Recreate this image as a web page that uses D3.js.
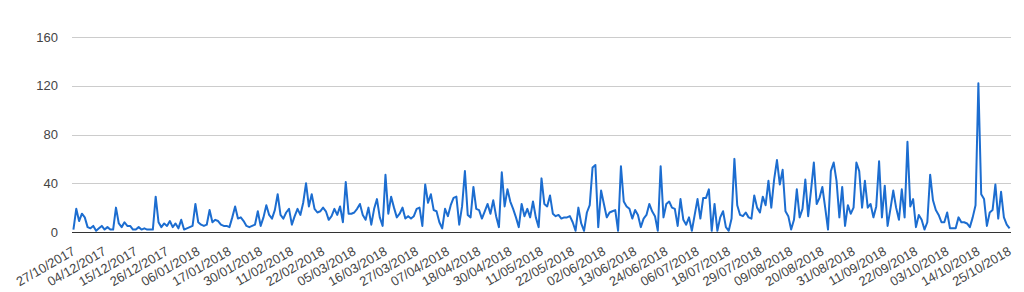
<!DOCTYPE HTML>
<html>
<head>
<meta charset="utf-8">
<script src="https://d3js.org/d3.v7.min.js"></script>
<style>
  body { margin: 0; background: white; }
  text { font-family: Arial, "Liberation Sans", sans-serif; }
</style>
</head>
<body>
<svg id="svgMain" width="1024" height="292"></svg>
<script>

// daily values, one per category (label shown on every 11th day)
const values = [
  2, 19, 9, 15, 12, 4, 3, 5, 1, 3, 5,
  2, 4, 2, 2, 20, 7, 4, 8, 5, 5, 2,
  2, 4, 2, 3, 2, 2, 2, 29, 8, 4, 7,
  5, 9, 4, 7, 3, 10, 2, 3, 4, 5, 23,
  8, 6, 5, 6, 18, 8, 10, 9, 6, 5, 5,
  4, 12, 21, 11, 12, 9, 5, 4, 5, 6, 17,
  5, 12, 22, 14, 11, 18, 31, 14, 11, 16, 19,
  6, 13, 19, 14, 24, 40, 21, 31, 19, 16, 17,
  20, 17, 10, 13, 19, 14, 21, 8, 41, 15, 15,
  16, 19, 23, 14, 10, 20, 6, 19, 27, 12, 5,
  47, 15, 29, 20, 12, 15, 20, 11, 13, 11, 13,
  19, 20, 5, 39, 24, 31, 18, 17, 8, 3, 19,
  13, 22, 28, 29, 6, 21, 50, 14, 12, 37, 19,
  18, 11, 17, 23, 15, 26, 13, 4, 49, 21, 35,
  25, 19, 12, 4, 23, 13, 19, 12, 25, 12, 4,
  44, 23, 21, 30, 15, 13, 14, 11, 12, 12, 13,
  8, 1, 20, 7, 1, 16, 22, 53, 55, 4, 34,
  23, 12, 16, 17, 18, 1, 54, 25, 21, 19, 11,
  18, 14, 4, 11, 14, 23, 17, 13, 1, 54, 12,
  23, 25, 20, 19, 5, 27, 10, 6, 12, 1, 14,
  27, 11, 28, 28, 35, 1, 23, 1, 12, 17, 4,
  1, 11, 60, 22, 14, 13, 16, 12, 11, 30, 20,
  16, 29, 22, 42, 20, 43, 59, 39, 51, 17, 13,
  2, 10, 35, 12, 19, 43, 13, 34, 57, 23, 28,
  37, 20, 2, 50, 57, 42, 12, 37, 5, 22, 15,
  20, 57, 50, 20, 42, 20, 23, 12, 21, 58, 12,
  38, 5, 19, 34, 20, 10, 35, 12, 74, 21, 27,
  4, 14, 10, 2, 8, 47, 26, 18, 14, 8, 8,
  16, 3, 3, 3, 12, 8, 8, 7, 4, 12, 22,
  122, 31, 27, 5, 16, 18, 39, 11, 33, 12, 6,
  3
];

const tickLabels = [
  "27/10/2017", "04/12/2017", "15/12/2017", "26/12/2017", "06/01/2018",
  "17/01/2018", "30/01/2018", "11/02/2018", "22/02/2018", "05/03/2018",
  "16/03/2018", "27/03/2018", "07/04/2018", "18/04/2018", "30/04/2018",
  "11/05/2018", "22/05/2018", "02/06/2018", "13/06/2018", "24/06/2018",
  "06/07/2018", "18/07/2018", "29/07/2018", "09/08/2018", "20/08/2018",
  "31/08/2018", "11/09/2018", "22/09/2018", "03/10/2018", "14/10/2018",
  "25/10/2018"
];

const yTicks = [0, 40, 80, 120, 160];
const labelEvery = 11;

const svg = d3.select("#svgMain");

var xs = d3.scalePoint()
  .domain(d3.range(values.length))
  .range([72, 1011])
  .padding(0.5);

var ys = d3.scaleLinear().domain([0, 160]).range([232, 37]);

// horizontal grid + y labels
const grid = svg.append("g");
grid.selectAll("line")
  .data(yTicks.filter(d => d > 0))
  .enter()
  .append("line")
  .attr("x1", 72)
  .attr("x2", 1011)
  .attr("y1", d => Math.round(ys(d)) + 0.5)
  .attr("y2", d => Math.round(ys(d)) + 0.5)
  .attr("stroke", "#cccccc")
  .attr("stroke-width", 1);

const yAxis = d3.axisLeft(ys).tickValues(yTicks).tickSize(0).tickPadding(14);
svg.append("g")
  .attr("transform", "translate(72,0)")
  .call(yAxis)
  .call(g => g.select(".domain").remove())
  .selectAll("text")
  .attr("font-size", 13)
  .attr("fill", "#444");

// the line
const line = d3.line()
  .x((d, i) => xs(i))
  .y(d => ys(d));

svg.append("path")
  .datum(values)
  .attr("d", line)
  .attr("fill", "none")
  .attr("stroke", "#1c6dd0")
  .attr("stroke-width", 2)
  .attr("stroke-linejoin", "round");

// baseline
svg.append("line")
  .attr("x1", 72)
  .attr("x2", 1011)
  .attr("y1", Math.round(ys(0)) + 0.5)
  .attr("y2", Math.round(ys(0)) + 0.5)
  .attr("stroke", "#333333")
  .attr("stroke-width", 1);

// slanted category labels
const xAxis = d3.axisBottom(xs)
  .tickValues(tickLabels.map((d, i) => i * labelEvery))
  .tickFormat((d, i) => tickLabels[i])
  .tickSize(0);

svg.append("g")
  .attr("transform", "translate(0," + ys(0) + ")")
  .call(xAxis)
  .call(g => g.select(".domain").remove())
  .selectAll("text")
  .attr("font-size", 13)
  .attr("fill", "#444")
  .attr("text-anchor", "end")
  .attr("dy", "0")
  .attr("y", 0)
  .attr("transform", "translate(2,22) rotate(-30)");

</script>
</body>
</html>
